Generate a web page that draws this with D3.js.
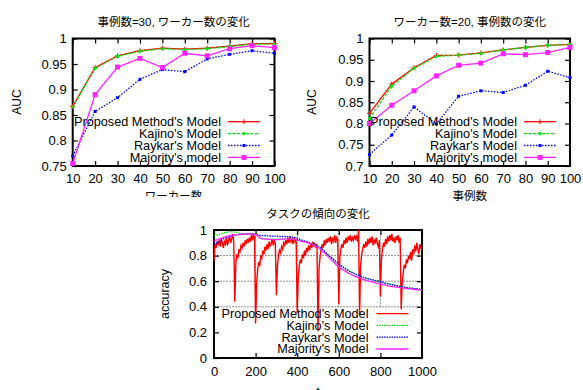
<!DOCTYPE html>
<html>
<head>
<meta charset="utf-8">
<script src="https://cdn.jsdelivr.net/npm/d3@7"></script>
<style>
  body { margin: 0; background: #fff; }
  svg { display: block; }
  text { font-family: "Liberation Sans", "Noto Sans CJK JP", sans-serif; fill: #000; }
</style>
</head>
<body>
<div id="chart"></div>
<script>
// ---------- data ----------
// top left: 事例数=30, worker count varies
const workerCounts = [10, 20, 30, 40, 50, 60, 70, 80, 90, 100];
const workerProposed = [0.867, 0.943, 0.966, 0.976, 0.981, 0.979, 0.981, 0.985, 0.990, 0.990];
const workerKajino = [0.866, 0.942, 0.965, 0.975, 0.980, 0.978, 0.980, 0.984, 0.989, 0.989];
const workerRaykar = [0.770, 0.857, 0.884, 0.920, 0.939, 0.935, 0.960, 0.969, 0.976, 0.971];
const workerMajority = [0.755, 0.890, 0.944, 0.961, 0.943, 0.971, 0.966, 0.980, 0.986, 0.982];

// top right: ワーカー数=20, case count varies
const caseCounts = [10, 20, 30, 40, 50, 60, 70, 80, 90, 100];
const caseProposed = [0.824, 0.893, 0.931, 0.960, 0.961, 0.966, 0.973, 0.979, 0.984, 0.986];
const caseKajino = [0.812, 0.888, 0.930, 0.958, 0.961, 0.965, 0.973, 0.979, 0.984, 0.986];
const caseRaykar = [0.727, 0.773, 0.839, 0.799, 0.864, 0.877, 0.873, 0.890, 0.923, 0.908];
const caseMajority = [0.800, 0.843, 0.877, 0.912, 0.937, 0.942, 0.964, 0.962, 0.967, 0.979];

// bottom: accuracy over t
const trendTimes = [0, 25, 50, 75, 100, 125, 150, 175, 200, 225, 250, 275, 300, 325, 350, 375, 400,
  425, 450, 475, 500, 525, 550, 575, 600, 625, 650, 675, 700, 725, 750, 775, 800, 825, 850, 875,
  900, 925, 950, 975, 1000];
const trendKajino = [0.955, 0.968, 0.978, 0.987, 0.985, 0.975, 0.970, 0.970, 0.968, 0.935, 0.930,
  0.928, 0.928, 0.930, 0.930, 0.930, 0.920, 0.915, 0.905, 0.890, 0.870, 0.840, 0.800, 0.765, 0.730,
  0.705, 0.680, 0.660, 0.640, 0.625, 0.615, 0.605, 0.597, 0.585, 0.575, 0.565, 0.557, 0.550, 0.545,
  0.540, 0.536];
const trendRaykar = [0.890, 0.910, 0.935, 0.950, 0.960, 0.965, 0.968, 0.970, 0.965, 0.957, 0.955,
  0.953, 0.952, 0.950, 0.948, 0.945, 0.935, 0.920, 0.905, 0.890, 0.870, 0.845, 0.805, 0.770, 0.735,
  0.705, 0.680, 0.660, 0.642, 0.627, 0.615, 0.605, 0.597, 0.585, 0.575, 0.566, 0.558, 0.550, 0.545,
  0.540, 0.535];
const trendMajority = [0.915, 0.930, 0.945, 0.955, 0.962, 0.966, 0.968, 0.970, 0.965, 0.935, 0.928,
  0.925, 0.925, 0.928, 0.930, 0.928, 0.920, 0.910, 0.900, 0.885, 0.865, 0.830, 0.790, 0.750, 0.710,
  0.685, 0.660, 0.640, 0.625, 0.610, 0.598, 0.588, 0.578, 0.568, 0.560, 0.553, 0.548, 0.543, 0.538,
  0.534, 0.531];
// proposed method, one value every 5 steps of t (0 .. 1000)
const proposedStep = 5;
const trendProposed = [
  0.76, 0.89, 0.86, 0.91, 0.88, 0.92, 0.87, 0.93, 0.90, 0.86, 0.91, 0.89, 0.94, 0.88, 0.92, 0.95, 0.90, 0.93, 0.97, 0.91,
  0.44, 0.74, 0.81, 0.78, 0.85, 0.83, 0.88, 0.86, 0.90, 0.87, 0.92, 0.89, 0.93, 0.90, 0.94, 0.91, 0.96, 0.92, 0.97, 0.94,
  0.27, 0.58, 0.69, 0.75, 0.72, 0.80, 0.78, 0.84, 0.81, 0.87, 0.84, 0.89, 0.85, 0.91, 0.87, 0.90, 0.93, 0.88, 0.92, 0.89,
  0.49, 0.72, 0.80, 0.84, 0.82, 0.87, 0.85, 0.90, 0.88, 0.92, 0.89, 0.94, 0.90, 0.95, 0.91, 0.93, 0.89, 0.94, 0.91, 0.93,
  0.35, 0.63, 0.72, 0.77, 0.74, 0.81, 0.78, 0.84, 0.80, 0.86, 0.83, 0.88, 0.84, 0.89, 0.86, 0.91, 0.87, 0.90, 0.86, 0.89,
  0.21, 0.70, 0.79, 0.85, 0.89, 0.86, 0.92, 0.88, 0.93, 0.90, 0.94, 0.91, 0.95, 0.89, 0.93, 0.91, 0.96, 0.90, 0.94, 0.92,
  0.42, 0.79, 0.85, 0.89, 0.86, 0.92, 0.89, 0.94, 0.90, 0.95, 0.92, 0.96, 0.91, 0.94, 0.92, 0.96, 0.93, 0.95, 0.91, 1.00,
  0.34, 0.73, 0.81, 0.85, 0.89, 0.86, 0.91, 0.87, 0.93, 0.89, 0.94, 0.90, 0.95, 0.88, 0.92, 0.90, 0.94, 0.89, 0.87, 0.92,
  0.48, 0.77, 0.85, 0.90, 0.87, 0.93, 0.89, 0.95, 0.91, 0.96, 0.92, 0.97, 0.91, 0.94, 0.90, 0.95, 0.92, 0.96, 0.90, 0.94,
  0.38, 0.59, 0.67, 0.73, 0.70, 0.77, 0.74, 0.80, 0.77, 0.83, 0.76, 0.85, 0.81, 0.88, 0.83, 0.90, 0.85, 0.81, 0.89, 0.86,
  0.84
];

const aucLegend = ["Proposed Method's Model", "Kajino's Model", "Raykar's Model", "Majority's model"];
const trendLegend = ["Proposed Method's Model", "Kajino's Model", "Raykar's Model", "Majority's Model"];

const aucTicksWorker = [0.75, 0.8, 0.85, 0.9, 0.95, 1];
const aucTicksCase = [0.7, 0.75, 0.8, 0.85, 0.9, 0.95, 1];
const accTicks = [0, 0.2, 0.4, 0.6, 0.8, 1];
const tTicks = [0, 200, 400, 600, 800, 1000];

// ---------- styles ----------
const styles = [
  {color: '#ff0000', dash: null, marker: 'plus', size: 5},
  {color: '#11dd11', dash: '3,1.5', marker: 'square', size: 3},
  {color: '#0000ff', dash: '1.5,1.5', marker: 'square', size: 3},
  {color: '#ff22ff', dash: null, marker: 'square', size: 5}
];

const fontFamily = '"Liberation Sans", "Noto Sans CJK JP", sans-serif';

const svg = d3.select('#chart').append('svg').attr('width', 583).attr('height', 390);
svg.append('rect').attr('width', 583).attr('height', 390).attr('fill', '#fff');

function drawMarker(g, kind, cx, cy, size, color) {
  if (kind === 'plus') {
    const h = size / 2;
    g.append('path')
      .attr('d', `M${cx - h},${cy}H${cx + h}M${cx},${cy - h}V${cy + h}`)
      .attr('stroke', color).attr('stroke-width', 1);
  } else {
    g.append('rect')
      .attr('x', cx - size / 2).attr('y', cy - size / 2)
      .attr('width', size).attr('height', size)
      .attr('fill', color);
  }
}

function styleAxis(g, size) {
  g.attr('font-size', size).attr('font-family', fontFamily);
  g.select('.domain').remove();
  g.selectAll('.tick line').attr('stroke', '#000').attr('stroke-width', 1.2);
}

// frame + inward ticks on all four sides (gnuplot look)
function drawFrame(g, x, y, xTicks, yTicks, xFmt, yFmt, xPad, yPad) {
  const [l, r] = x.range();
  const [b, t] = y.range();
  g.append('g').attr('transform', `translate(0,${b})`)
    .call(d3.axisBottom(x).tickValues(xTicks).tickFormat(xFmt).tickSizeInner(-5).tickSizeOuter(0).tickPadding(xPad))
    .call(a => styleAxis(a, 13));
  g.append('g').attr('transform', `translate(0,${t})`)
    .call(d3.axisTop(x).tickValues(xTicks).tickFormat('').tickSizeInner(-5).tickSizeOuter(0))
    .call(a => styleAxis(a, 13));
  g.append('g').attr('transform', `translate(${l},0)`)
    .call(d3.axisLeft(y).tickValues(yTicks).tickFormat(yFmt).tickSizeInner(-5).tickSizeOuter(0).tickPadding(yPad))
    .call(a => styleAxis(a, 13));
  g.append('g').attr('transform', `translate(${r},0)`)
    .call(d3.axisRight(y).tickValues(yTicks).tickFormat('').tickSizeInner(-5).tickSizeOuter(0))
    .call(a => styleAxis(a, 13));
  g.append('rect')
    .attr('x', l).attr('y', t).attr('width', r - l).attr('height', b - t)
    .attr('fill', 'none').attr('stroke', '#000').attr('stroke-width', 2);
}

function drawAucPanel(opt) {
  const g = svg.append('g');
  const x = d3.scaleLinear().domain([10, 100]).range([opt.left, opt.right]);
  const y = d3.scaleLinear().domain([opt.yTicks[0], 1]).range([166, 38.5]);

  drawFrame(g, x, y, opt.xValues, opt.yTicks, d3.format('d'), d => String(d), 7.5, 6);

  // title and axis labels
  g.append('text').attr('x', (opt.left + opt.right) / 2).attr('y', 26)
    .attr('text-anchor', 'middle').attr('font-size', 11.5).text(opt.title);
  g.append('text').attr('transform', `translate(${opt.yLabelX},102) rotate(-90)`)
    .attr('text-anchor', 'middle').attr('font-size', 12).attr('dy', '0.35em').text('AUC');
  g.append('text').attr('x', (opt.left + opt.right) / 2).attr('y', 199.5)
    .attr('text-anchor', 'middle').attr('font-size', 11.5).text(opt.xLabel);

  // lines
  opt.series.forEach((vals, i) => {
    const s = styles[i];
    const pts = opt.xValues.map((d, j) => [x(d), y(vals[j])]);
    g.append('path').attr('d', d3.line()(pts))
      .attr('fill', 'none').attr('stroke', s.color).attr('stroke-width', 1.3)
      .attr('stroke-dasharray', s.dash);
    pts.forEach(p => drawMarker(g, s.marker, p[0], p[1], s.size, s.color));
  });

  // legend
  aucLegend.forEach((name, i) => {
    const s = styles[i];
    const cy = 121.7 + i * 11.9;
    g.append('text').attr('x', opt.legendX).attr('y', cy).attr('dy', '0.35em')
      .attr('text-anchor', 'end').attr('font-size', 12.7).text(name);
    g.append('line').attr('x1', opt.legendX + 7).attr('x2', opt.legendX + 39)
      .attr('y1', cy).attr('y2', cy)
      .attr('stroke', s.color).attr('stroke-width', 1.3).attr('stroke-dasharray', s.dash);
    drawMarker(g, s.marker, opt.legendX + 23, cy, s.size, s.color);
  });
}

drawAucPanel({
  left: 72.7, right: 274.5, yLabelX: 16.5, legendX: 221,
  title: '事例数=30, ワーカー数の変化', xLabel: 'ワーカー数',
  xValues: workerCounts, yTicks: aucTicksWorker,
  series: [workerProposed, workerKajino, workerRaykar, workerMajority]
});

drawAucPanel({
  left: 369.5, right: 570, yLabelX: 311.5, legendX: 517,
  title: 'ワーカー数=20, 事例数の変化', xLabel: '事例数',
  xValues: caseCounts, yTicks: aucTicksCase,
  series: [caseProposed, caseKajino, caseRaykar, caseMajority]
});

// ---------- bottom panel ----------
// the bottom picture sits on a white box over the left x label
const bottom = svg.append('g');
bottom.append('rect').attr('x', 140).attr('y', 197).attr('width', 305).attr('height', 193).attr('fill', '#fff');

const xT = d3.scaleLinear().domain([0, 1000]).range([214, 422]);
const yT = d3.scaleLinear().domain([0, 1]).range([358, 230]);

// grid
[0.4, 0.6, 0.8].forEach(v => {
  bottom.append('line').attr('x1', xT(0)).attr('x2', xT(1000)).attr('y1', yT(v)).attr('y2', yT(v))
    .attr('stroke', '#909090').attr('stroke-width', 1).attr('stroke-dasharray', '2,1');
});
[200, 400, 600, 800].forEach(v => {
  bottom.append('line').attr('x1', xT(v)).attr('x2', xT(v)).attr('y1', yT(0.4)).attr('y2', yT(1))
    .attr('stroke', '#909090').attr('stroke-width', 1).attr('stroke-dasharray', '2,1');
});

drawFrame(bottom, xT, yT, tTicks, accTicks, d3.format('d'), d3.format('~g'), 8.5, 7);

bottom.append('text').attr('x', 318).attr('y', 217.5).attr('text-anchor', 'middle')
  .attr('font-size', 11.5).text('タスクの傾向の変化');
bottom.append('text').attr('transform', 'translate(165,294) rotate(-90)')
  .attr('text-anchor', 'middle').attr('font-size', 12.5).attr('dy', '0.35em').text('accuracy');
bottom.append('text').attr('x', 318).attr('y', 396).attr('text-anchor', 'middle')
  .attr('font-size', 12.5).text('t');

// proposed (noisy red)
const redPts = trendProposed.map((v, i) => [xT(i * proposedStep), yT(v)]);
bottom.append('path').attr('d', d3.line()(redPts))
  .attr('fill', 'none').attr('stroke', styles[0].color).attr('stroke-width', 1.4);

[trendKajino, trendRaykar, trendMajority].forEach((vals, k) => {
  const s = styles[k + 1];
  const pts = trendTimes.map((t, j) => [xT(t), yT(vals[j])]);
  bottom.append('path').attr('d', d3.line().curve(d3.curveMonotoneX)(pts))
    .attr('fill', 'none').attr('stroke', s.color).attr('stroke-width', 1.3)
    .attr('stroke-dasharray', k === 2 ? null : '1.5,1');
});

trendLegend.forEach((name, i) => {
  const s = styles[i];
  const cy = 313.6 + i * 11.8;
  bottom.append('text').attr('x', 368.5).attr('y', cy).attr('dy', '0.35em')
    .attr('text-anchor', 'end').attr('font-size', 12.7).text(name);
  bottom.append('line').attr('x1', 376.5).attr('x2', 408.5).attr('y1', cy).attr('y2', cy)
    .attr('stroke', s.color).attr('stroke-width', 1.3)
    .attr('stroke-dasharray', (i === 1 || i === 2) ? '1.5,1' : null);
});
</script>
</body>
</html>
